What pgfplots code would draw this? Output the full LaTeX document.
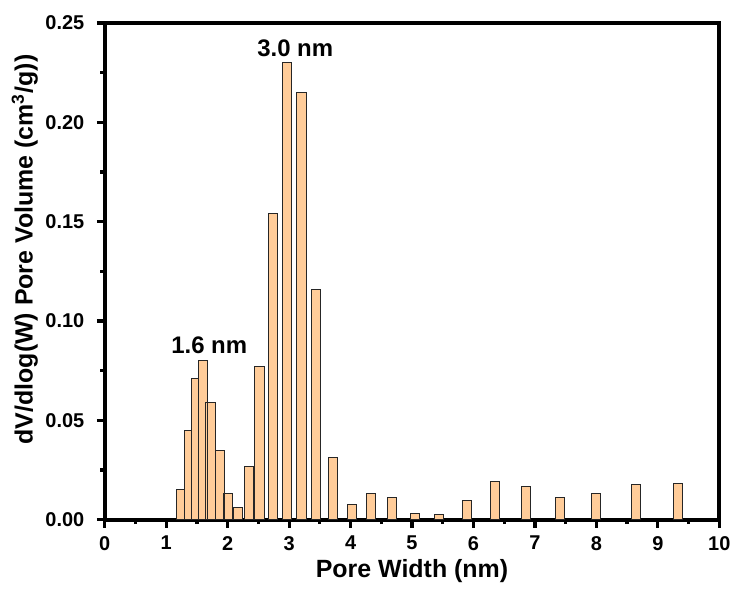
\documentclass[border=0pt]{standalone}
\usepackage{pgfplots}
\pgfplotsset{compat=1.18}
\usepackage{fontspec}
\setmainfont{Liberation Sans}
\definecolor{barc}{RGB}{255,204,153}
\begin{document}
\begin{tikzpicture}
\begin{axis}[
  width=308pt, height=249pt, scale only axis,
  xmin=0, xmax=10, ymin=0, ymax=0.25,
  line width=1.8pt,
  axis line style={line width=1.8pt},
  xtick={0,1,...,10}, minor x tick num=1,
  ytick={0,0.05,0.10,0.15,0.20,0.25}, minor y tick num=1,
  xtick pos=left, ytick pos=left,
  tick align=outside,
  major tick length=4pt, minor tick length=2.2pt,
  every tick/.style={line width=1.6pt, black},
  /pgf/number format/assume math mode=true,
  tick label style={font=\fontsize{10}{12}\selectfont\bfseries},
  yticklabel style={/pgf/number format/fixed, /pgf/number format/fixed zerofill, /pgf/number format/precision=2, xshift=-2pt},
  xticklabel style={/pgf/number format/fixed, /pgf/number format/precision=0},
  scaled y ticks=false,
  xlabel={Pore Width (nm)},
  ylabel={dV/dlog(W) Pore Volume (cm$^{\mathbf{3}}$/g))},
  label style={font=\fontsize{12.5}{14}\selectfont\bfseries},
  xlabel style={at={(axis description cs:0.5,-0.1024)}, anchor=center},
  ylabel style={at={(axis description cs:-0.13,0.544)}, anchor=center},
  clip=false,
]
\addplot[ybar, bar shift=0pt, bar width=0.12, fill=barc, draw=black!85, line width=0.5pt] coordinates {
 (1.23,0.015) (1.35,0.045) (1.47,0.071)
};
\addplot[ybar, bar shift=0pt, bar width=0.15, fill=barc, draw=black!85, line width=0.5pt] coordinates {
 (1.60,0.080) (1.72,0.059) (1.87,0.035) (2.00,0.013) (2.17,0.006) (2.35,0.027)
 (2.52,0.077) (2.74,0.154) (2.96,0.230) (3.20,0.215) (3.44,0.116) (3.71,0.0315)
 (4.02,0.0075) (4.33,0.013) (4.67,0.011) (5.05,0.003) (5.44,0.0025) (5.89,0.0095)
 (6.35,0.019) (6.86,0.0165) (7.41,0.011) (8.00,0.013) (8.64,0.0177) (9.33,0.018)
};
\node[font=\fontsize{12}{14}\selectfont\bfseries] at (axis cs:3.10,0.2375) {3.0 nm};
\node[font=\fontsize{12}{14}\selectfont\bfseries] at (axis cs:1.70,0.088) {1.6 nm};
\path (rel axis cs:0,1) ++(-52.5pt,11.5pt) (rel axis cs:1,0) ++(0,-33pt);
\end{axis}
\end{tikzpicture}
\end{document}
